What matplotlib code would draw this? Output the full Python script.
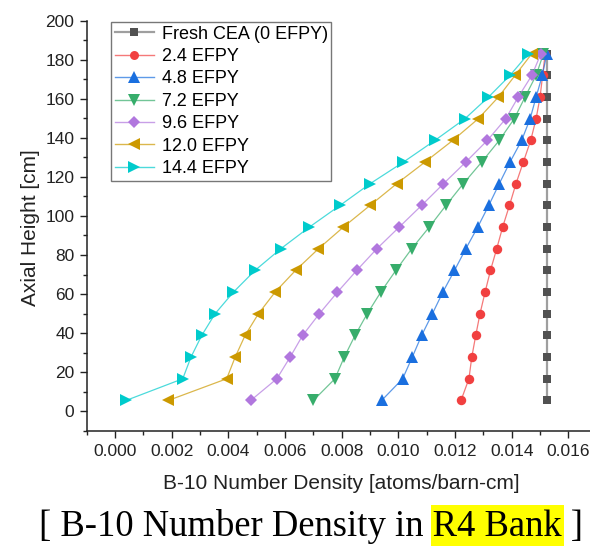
import matplotlib
matplotlib.use("Agg")
import matplotlib.pyplot as plt
from matplotlib.ticker import MultipleLocator, FormatStrFormatter
from matplotlib.patches import Rectangle
from matplotlib.lines import Line2D
from matplotlib.colors import to_rgba

plt.rcParams['font.family'] = ['Liberation Sans', 'DejaVu Sans']

# Axial node heights [cm]
heights = [5.5, 16.6, 27.7, 38.8, 49.9, 61.0, 72.1, 83.2, 94.3, 105.4,
           116.5, 127.6, 138.7, 149.8, 160.9, 172.0, 183.1]

# B-10 number density [atoms/barn-cm] per burnup step
fresh = [0.01524] * 17
efpy_2_4 = [0.01221, 0.01249, 0.01259, 0.01273, 0.01288, 0.01306, 0.01325, 0.01347, 0.01368,
            0.01392, 0.01415, 0.01441, 0.01467, 0.01486, 0.01500, 0.01509, 0.01518]
efpy_4_8 = [0.00941, 0.01015, 0.01049, 0.01082, 0.01120, 0.01157, 0.01198, 0.01238, 0.01280,
            0.01319, 0.01356, 0.01394, 0.01435, 0.01465, 0.01486, 0.01508, 0.01524]
efpy_7_2 = [0.00700, 0.00776, 0.00809, 0.00847, 0.00890, 0.00938, 0.00991, 0.01047, 0.01109,
            0.01168, 0.01229, 0.01294, 0.01356, 0.01409, 0.01447, 0.01486, 0.01512]
efpy_9_6 = [0.00479, 0.00571, 0.00618, 0.00662, 0.00721, 0.00785, 0.00853, 0.00924, 0.01003,
            0.01082, 0.01159, 0.01238, 0.01314, 0.01379, 0.01423, 0.01471, 0.01503]
efpy_12_0 = [0.00188, 0.00394, 0.00424, 0.00459, 0.00506, 0.00565, 0.00637, 0.00718, 0.00806,
             0.00900, 0.00994, 0.01094, 0.01192, 0.01282, 0.01353, 0.01412, 0.01471]
efpy_14_4 = [0.00039, 0.00239, 0.00268, 0.00306, 0.00353, 0.00418, 0.00494, 0.00585, 0.00686,
             0.00794, 0.00900, 0.01018, 0.01129, 0.01235, 0.01318, 0.01394, 0.01459]

labels = ["Fresh CEA (0 EFPY)", "2.4 EFPY", "4.8 EFPY", "7.2 EFPY",
          "9.6 EFPY", "12.0 EFPY", "14.4 EFPY"]
series = [fresh, efpy_2_4, efpy_4_8, efpy_7_2, efpy_9_6, efpy_12_0, efpy_14_4]
colors = ["#515151", "#F14040", "#1A6FDF", "#37AD6B", "#B177DE", "#CC9900", "#00CBCC"]
markers = ["s", "o", "^", "v", "D", "<", ">"]
msizes = [6, 6.8, 8.4, 8.4, 6.6, 8.4, 8.4]

W, H = 590, 546
fig = plt.figure(figsize=(W / 100, H / 100), dpi=100)
ax = fig.add_axes([86.7 / W, 115.3 / H, 515.7 / W, 410 / H])


def line_rgba(c, m):
    # connecting lines are drawn paler than the symbols
    return to_rgba(c, 0.55 if m == "s" else 0.7)


for vals, c, m, ms in zip(series, colors, markers, msizes):
    lw = 1.6 if m == "s" else 0.9
    ax.plot(vals, heights, color=line_rgba(c, m), lw=lw, marker=m, markersize=ms,
            markerfacecolor=c, markeredgecolor=c, markeredgewidth=0)

handles = [Line2D([0], [0], color=line_rgba(c, m), lw=1.6 if m == "s" else 1.0,
                  marker=m, markersize=ms * 0.95, markerfacecolor=c,
                  markeredgecolor=c, markeredgewidth=0)
           for c, m, ms in zip(colors, markers, msizes)]
leg = fig.legend(handles, labels, loc="upper left",
                 bbox_to_anchor=(111 / W, 1 - 22 / H), bbox_transform=fig.transFigure,
                 fontsize=13, frameon=True, fancybox=False, borderpad=0.2,
                 labelspacing=0.3, handlelength=2.2, handletextpad=0.4,
                 borderaxespad=0)
leg.get_frame().set_edgecolor("#555555")
leg.get_frame().set_linewidth(1.0)

ax.set_xlim(-0.001, 0.0172)
ax.set_ylim(-10, 200)
ax.xaxis.set_major_locator(MultipleLocator(0.002))
ax.xaxis.set_minor_locator(MultipleLocator(0.001))
ax.xaxis.set_major_formatter(FormatStrFormatter("%.3f"))
ax.yaxis.set_major_locator(MultipleLocator(20))
ax.yaxis.set_minor_locator(MultipleLocator(10))

for s in ["top", "right"]:
    ax.spines[s].set_visible(False)
for s in ["left", "bottom"]:
    ax.spines[s].set_linewidth(1.1)
    ax.spines[s].set_color("#222222")

ax.tick_params(which="major", direction="out", length=4.8, width=1.0,
               labelsize=12.5, color="#222222", labelcolor="#222222")
ax.tick_params(which="minor", direction="out", length=2.8, width=1.0, color="#222222")
ax.tick_params(axis="x", which="major", pad=5)
ax.tick_params(axis="y", which="major", pad=4)

fig.text(30 / W, 1 - 228 / H, "Axial Height [cm]", rotation=90, ha="center",
         va="center", fontsize=15, color="#222222")
fig.text(341.7 / W, 1 - 489.3 / H, "B-10 Number Density [atoms/barn-cm]",
         ha="center", va="baseline", fontsize=15, color="#222222")

# caption with highlighted bank name
cap_full = "[ B-10 Number Density in R4 Bank ]"
cap_head = "[ B-10 Number Density in R4 Bank"
cap_hl = "R4 Bank"
cap_kw = dict(fontsize=26.4, family="Liberation Serif", color="black")
x0 = 39.0
base = H - 536
fig.text(x0 / W, base / H, cap_full, ha="left", va="baseline", zorder=5, **cap_kw)
r = fig.canvas.get_renderer()
tmp1 = fig.text(x0 / W, base / H, cap_head, ha="left", va="baseline", **cap_kw)
tmp2 = fig.text(x0 / W, base / H, cap_hl, ha="left", va="baseline", **cap_kw)
e1 = tmp1.get_window_extent(r)
e2 = tmp2.get_window_extent(r)
tmp1.remove()
tmp2.remove()
hl_x1 = e1.x1 + 2
hl_x0 = e1.x1 - e2.width - 2
rect = Rectangle((hl_x0 / W, -0.02), (hl_x1 - hl_x0) / W, (H - 505) / H + 0.02,
                 transform=fig.transFigure, facecolor="#FFFF00", edgecolor="none", zorder=1)
fig.patches.append(rect)

fig.savefig("out.png", dpi=100)
